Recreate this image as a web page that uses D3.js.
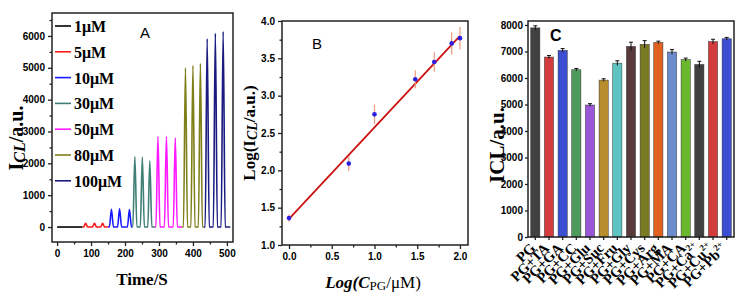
<!DOCTYPE html>
<html>
<head>
<meta charset="utf-8">
<script src="https://cdn.jsdelivr.net/npm/d3@7"></script>
<style>
  body { margin: 0; background: #fff; }
  svg { display: block; }
  .tick text { font-family: "Liberation Sans", Arial, sans-serif; font-weight: bold; font-size: 10px; }
</style>
</head>
<body>
<svg id="chart" width="748" height="305"></svg>
<script>
// ---- panel A : CL signal vs time ----
const seriesNames = ['1\u03bcM', '5\u03bcM', '10\u03bcM', '30\u03bcM', '50\u03bcM', '80\u03bcM', '100\u03bcM'];
const seriesColors = ['#000000', '#ff1a1a', '#1a1aff', '#3f7f76', '#ff1aff', '#7f7f1a', '#1a1a80'];
const seriesStart = [0, 75, 150, 222, 288, 368, 432];
const seriesEnd = [75, 150, 222, 288, 368, 432, 510];
const peakTimes = [[], [84, 110, 134], [160, 184, 213], [229, 251, 273], [297, 322, 348], [378, 400, 422], [442, 466, 489]];
const peakHeights = [[], [120, 120, 115], [560, 570, 550], [2210, 2200, 2080], [2840, 2850, 2800], [5000, 5070, 5130], [5910, 6080, 6140]];

// ---- panel B : calibration ----
const logC = [0, 0.699, 1.0, 1.477, 1.699, 1.903, 2.0];
const logI = [1.36, 2.09, 2.75, 3.22, 3.45, 3.70, 3.77];
const logIErr = [0.05, 0.10, 0.13, 0.12, 0.13, 0.15, 0.15];
const fitX = [0, 2.0];
const fitY = [1.35, 3.80];

// ---- panel C : interference ----
const barNames = ['PG', 'PG+TA', 'PG+GA', 'PG+CC', 'PG+Glu', 'PG+Suc', 'PG+Fru', 'PG+Gly', 'PG+Cys', 'PG+Arg', 'PG+MA', 'PG+CA', 'PG+Ca', 'PG+Cu', 'PG+Pb'];
const barSup = ['', '', '', '', '', '', '', '', '', '', '', '', '2+', '2+', '2+'];
const barValues = [7890, 6790, 7040, 6310, 4980, 5920, 6560, 7190, 7270, 7340, 6980, 6690, 6510, 7370, 7480];
const barErr = [80, 60, 70, 50, 50, 50, 90, 160, 140, 50, 90, 60, 120, 90, 50];
const barColors = ['#404040', '#d23c3c', '#3c4ed2', '#4e9a5c', '#9a58d8', '#b88e2c', '#5ec4c2', '#583a3a', '#7a7a22', '#e0621e', '#6a8ccc', '#6cb82c', '#404040', '#d23c3c', '#3c4ed2'];

const svg = d3.select('#chart');
const serif = '"Liberation Serif", "Times New Roman", serif';
const sans = '"Liberation Sans", Arial, sans-serif';

function frame(x0, x1, y0, y1) {
    svg.append('rect')
        .attr('x', x0).attr('y', y0)
        .attr('width', x1 - x0).attr('height', y1 - y0)
        .attr('fill', 'none').attr('stroke', '#222').attr('stroke-width', 1.5);
}

function styleAxis(g) {
    g.select('.domain').remove();
    g.selectAll('.tick line').attr('stroke', '#222').attr('stroke-width', 1.3);
}

// ================= A =================
{
    const x = d3.scaleLinear().domain([-15, 518]).range([52, 233]);
    const y = d3.scaleLinear().domain([-470, 6720]).range([242, 13]);

    const line = d3.line()
        .x(d => x(d[0]))
        .y(d => y(d[1]))
        .curve(d3.curveMonotoneX);

    seriesNames.forEach((name, i) => {
        const pts = [[seriesStart[i], 0]];
        peakTimes[i].forEach((t, j) => {
            pts.push([t - 6, 0], [t, peakHeights[i][j]], [t + 6, 0]);
        });
        pts.push([seriesEnd[i], 0]);
        svg.append('path')
            .attr('d', line(pts))
            .attr('fill', 'none')
            .attr('stroke', seriesColors[i])
            .attr('stroke-width', 1.6);
    });

    const xa = svg.append('g').attr('transform', 'translate(0,242)')
        .call(d3.axisBottom(x).tickValues(d3.range(0, 501, 100)).tickFormat(d3.format('d')).tickSize(4).tickPadding(4));
    styleAxis(xa);
    const xm = svg.append('g').attr('transform', 'translate(0,242)')
        .call(d3.axisBottom(x).tickValues(d3.range(50, 501, 100)).tickSize(2.5).tickFormat(''));
    styleAxis(xm);

    const ya = svg.append('g').attr('transform', 'translate(52,0)')
        .call(d3.axisLeft(y).tickValues(d3.range(0, 6001, 1000)).tickFormat(d3.format('d')).tickSize(4).tickPadding(3));
    styleAxis(ya);
    const ym = svg.append('g').attr('transform', 'translate(52,0)')
        .call(d3.axisLeft(y).tickValues(d3.range(500, 6600, 1000)).tickSize(2.5).tickFormat(''));
    styleAxis(ym);

    frame(52, 233, 13, 242);

    // legend
    seriesNames.forEach((name, i) => {
        const ly = 26 + i * 25.8;
        svg.append('line')
            .attr('x1', 55).attr('x2', 71)
            .attr('y1', ly).attr('y2', ly)
            .attr('stroke', seriesColors[i]).attr('stroke-width', 1.6);
        svg.append('text')
            .attr('x', 74).attr('y', ly + 6)
            .attr('font-family', serif).attr('font-weight', 'bold')
            .attr('font-size', '16px')
            .text(name);
    });

    svg.append('text').attr('x', 140).attr('y', 38)
        .attr('font-family', sans).attr('font-size', '15px').text('A');

    svg.append('text').attr('x', 142).attr('y', 285)
        .attr('text-anchor', 'middle')
        .attr('font-family', serif).attr('font-weight', 'bold').attr('font-size', '17px')
        .text('Time/S');

    const yl = svg.append('text')
        .attr('transform', 'translate(23,138) rotate(-90)')
        .attr('text-anchor', 'middle')
        .attr('font-family', serif).attr('font-weight', 'bold').attr('font-size', '20px');
    yl.append('tspan').text('I');
    yl.append('tspan').attr('font-style', 'italic').attr('font-size', '16px').attr('dy', 2).text('CL');
    yl.append('tspan').attr('dy', -2).text('/a.u.');
}

// ================= B =================
{
    const x = d3.scaleLinear().domain([-0.082, 2.094]).range([282, 468]);
    const y = d3.scaleLinear().domain([1, 4]).range([245, 21]);

    svg.append('line')
        .attr('x1', x(fitX[0])).attr('y1', y(fitY[0]))
        .attr('x2', x(fitX[1])).attr('y2', y(fitY[1]))
        .attr('stroke', '#cc1111').attr('stroke-width', 1.8);

    logC.forEach((c, i) => {
        svg.append('line')
            .attr('x1', x(c)).attr('x2', x(c))
            .attr('y1', y(logI[i] - logIErr[i])).attr('y2', y(logI[i] + logIErr[i]))
            .attr('stroke', '#eb9a7c').attr('stroke-width', 1.2);
        svg.append('circle')
            .attr('cx', x(c)).attr('cy', y(logI[i]))
            .attr('r', 2.3).attr('fill', '#2a1ee0');
    });

    const xa = svg.append('g').attr('transform', 'translate(0,245)')
        .call(d3.axisBottom(x).tickValues(d3.range(0, 2.01, 0.5)).tickFormat(d3.format('.1f')).tickSize(4).tickPadding(4));
    styleAxis(xa);
    const xm = svg.append('g').attr('transform', 'translate(0,245)')
        .call(d3.axisBottom(x).tickValues(d3.range(0.25, 2.01, 0.5)).tickSize(2.5).tickFormat(''));
    styleAxis(xm);
    const ya = svg.append('g').attr('transform', 'translate(282,0)')
        .call(d3.axisLeft(y).tickValues(d3.range(1, 4.01, 0.5)).tickFormat(d3.format('.1f')).tickSize(4).tickPadding(3));
    styleAxis(ya);
    const ym = svg.append('g').attr('transform', 'translate(282,0)')
        .call(d3.axisLeft(y).tickValues(d3.range(1.25, 4, 0.5)).tickSize(2.5).tickFormat(''));
    styleAxis(ym);

    frame(282, 468, 21, 245);

    svg.append('text').attr('x', 312).attr('y', 49)
        .attr('font-family', sans).attr('font-size', '15px').text('B');

    const xl = svg.append('text').attr('x', 373).attr('y', 288)
        .attr('text-anchor', 'middle')
        .attr('font-family', serif).attr('font-style', 'italic').attr('font-weight', 'bold').attr('font-size', '17px');
    xl.append('tspan').text('Log(C');
    xl.append('tspan').attr('font-size', '13px').attr('font-style', 'normal').attr('font-weight', 'normal').attr('dy', 2).text('PG');
    xl.append('tspan').attr('dy', -2).attr('font-style', 'normal').attr('font-weight', 'normal').text('/\u03bcM)');

    const yl = svg.append('text')
        .attr('transform', 'translate(255,133) rotate(-90)')
        .attr('text-anchor', 'middle')
        .attr('font-family', serif).attr('font-weight', 'bold').attr('font-size', '17px');
    yl.append('tspan').text('Log(I');
    yl.append('tspan').attr('font-style', 'italic').attr('font-size', '14px').attr('dy', 2).text('CL');
    yl.append('tspan').attr('dy', -2).text('/a.u.)');
}

// ================= C =================
{
    const x = d3.scaleBand().domain(barNames).range([528, 734]).paddingInner(0.33).paddingOuter(0.2);
    const y = d3.scaleLinear().domain([0, 8150]).range([237, 21]);

    svg.selectAll('rect.bar')
        .data(barValues)
        .enter().append('rect')
        .attr('class', 'bar')
        .attr('x', (d, i) => x(barNames[i]))
        .attr('width', x.bandwidth())
        .attr('y', d => y(d))
        .attr('height', d => y(0) - y(d))
        .attr('fill', (d, i) => barColors[i])
        .attr('stroke', '#333').attr('stroke-width', 0.5);

    barValues.forEach((v, i) => {
        const cx = x(barNames[i]) + x.bandwidth() / 2;
        svg.append('line')
            .attr('x1', cx).attr('x2', cx)
            .attr('y1', y(v - barErr[i])).attr('y2', y(v + barErr[i]))
            .attr('stroke', '#111').attr('stroke-width', 1);
        svg.append('line')
            .attr('x1', cx - 2).attr('x2', cx + 2)
            .attr('y1', y(v + barErr[i])).attr('y2', y(v + barErr[i]))
            .attr('stroke', '#111').attr('stroke-width', 1);
    });

    const ya = svg.append('g').attr('transform', 'translate(528,0)')
        .call(d3.axisLeft(y).tickValues(d3.range(0, 8001, 1000)).tickFormat(d3.format('d')).tickSize(3).tickPadding(2));
    styleAxis(ya);
    ya.selectAll('.tick text').attr('font-size', '11px');

    const xa = svg.append('g').attr('transform', 'translate(0,237)')
        .call(d3.axisBottom(x).tickSize(3).tickFormat(''));
    styleAxis(xa);

    frame(528, 734, 21, 237);

    barNames.forEach((name, i) => {
        const cx = x(name) + x.bandwidth() / 2;
        const t = svg.append('text')
            .attr('transform', `translate(${cx + 1},${249}) rotate(-45)`)
            .attr('text-anchor', 'end')
            .attr('font-family', serif).attr('font-weight', 'bold').attr('font-size', '14.5px');
        t.append('tspan').text(name);
        if (barSup[i]) {
            t.append('tspan').attr('font-size', '9px').attr('dy', -6).text(barSup[i]);
        }
    });

    svg.append('text').attr('x', 550).attr('y', 41)
        .attr('font-family', sans).attr('font-weight', 'bold').attr('font-size', '16px').text('C');

    svg.append('text')
        .attr('transform', 'translate(504,145) rotate(-90)')
        .attr('text-anchor', 'middle')
        .attr('font-family', serif).attr('font-weight', 'bold').attr('font-size', '21px')
        .text('ICL/a.u.');
}
</script>
</body>
</html>
